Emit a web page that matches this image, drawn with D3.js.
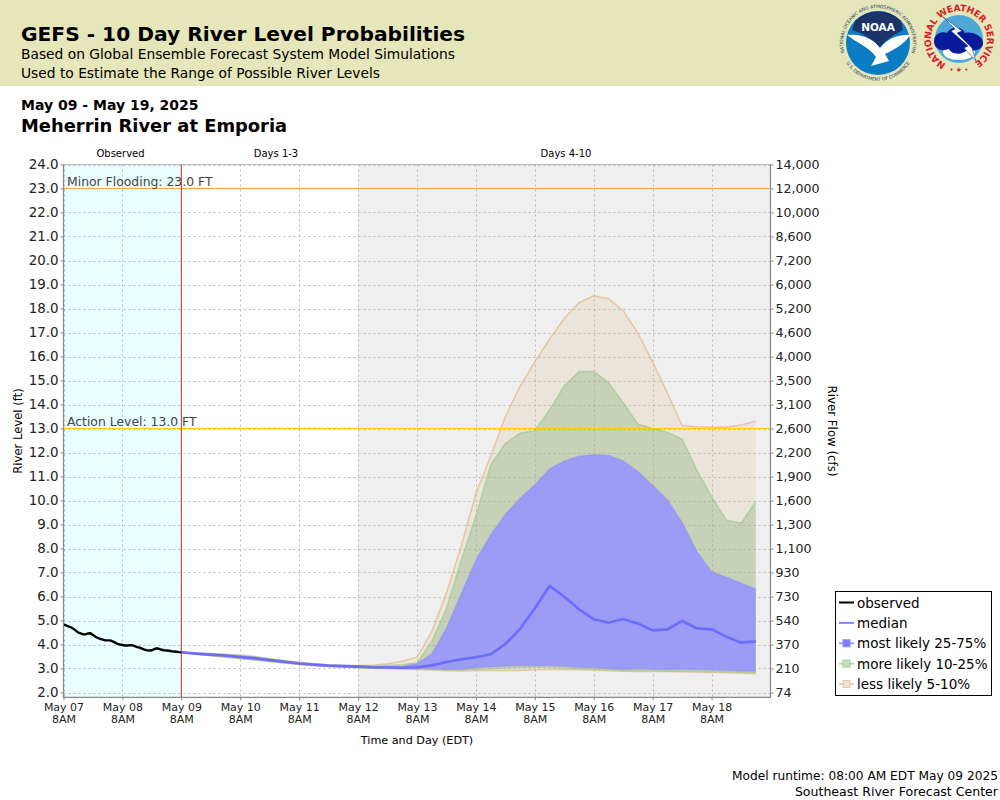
<!DOCTYPE html>
<html lang="en">
<head>
<meta charset="UTF-8">
<title>GEFS - 10 Day River Level Probabilities</title>
<script src="https://d3js.org/d3.v7.min.js"></script>
<style>
  html, body { margin: 0; padding: 0; background: #fff; }
  svg { display: block; font-family: "DejaVu Sans", sans-serif; }
  .domain { display: none; }
  .tick line { stroke: #888; }
  .tick text { fill: #222; }
</style>
</head>
<body>
<svg id="chart" width="1000" height="800"></svg>
<script>
// river level in ft, flow in cfs as printed next to each level
const levelTicks = [2,3,4,5,6,7,8,9,10,11,12,13,14,15,16,17,18,19,20,21,22,23,24]
const flowLabels = ["74","210","370","540","730","930","1,100","1,300","1,600","1,900","2,200","2,600","3,100","3,500","4,000","4,600","5,200","6,000","7,200","8,600","10,000","12,000","14,000"]
const dayTicks = ["2025-05-07","2025-05-08","2025-05-09","2025-05-10","2025-05-11","2025-05-12","2025-05-13","2025-05-14","2025-05-15","2025-05-16","2025-05-17","2025-05-18"]

// observed: hours after May 07 8AM
const obsHours = [0,1,2,3,4,5,6,7,8,9,10,11,12,13,14,15,16,17,18,19,20,21,22,23,24,25,26,27,28,29,30,31,32,33,34,35,36,37,38,39,40,41,42,43,44,45,46,47,48]
const obsLevels = [4.84,4.8,4.76,4.72,4.66,4.58,4.5,4.46,4.42,4.42,4.46,4.47,4.4,4.32,4.27,4.23,4.2,4.17,4.17,4.17,4.13,4.08,4.03,4.0,3.98,3.96,3.96,3.97,3.97,3.93,3.89,3.87,3.83,3.79,3.76,3.75,3.76,3.81,3.84,3.82,3.78,3.76,3.75,3.74,3.72,3.71,3.7,3.68,3.67]

// forecast: one value every 6 hours from May 09 8AM
const median = [3.68,3.62,3.58,3.54,3.48,3.43,3.35,3.28,3.21,3.16,3.12,3.1,3.08,3.05,3.04,3.03,3.05,3.13,3.27,3.38,3.47,3.59,4.02,4.65,5.51,6.44,5.99,5.47,5.05,4.91,5.06,4.88,4.59,4.63,4.98,4.67,4.63,4.33,4.08,4.13]
const p75 = [3.68,3.63,3.59,3.56,3.51,3.46,3.37,3.3,3.23,3.17,3.13,3.11,3.09,3.07,3.06,3.08,3.2,3.6,4.67,6.1,7.52,8.56,9.42,10.09,10.65,11.31,11.65,11.84,11.91,11.88,11.65,11.21,10.62,10.02,9.08,7.87,7.03,6.8,6.55,6.3]
const p25 = [3.68,3.61,3.56,3.51,3.45,3.38,3.32,3.25,3.19,3.14,3.1,3.08,3.05,3.03,3.02,3.01,3.0,3.0,2.97,2.97,3.04,3.07,3.1,3.12,3.12,3.12,3.1,3.05,3.04,3.0,2.97,3.0,2.97,2.97,2.97,2.97,2.95,2.93,2.9,2.89]
const p90 = [3.68,3.64,3.6,3.57,3.53,3.48,3.39,3.31,3.24,3.18,3.14,3.12,3.11,3.09,3.12,3.16,3.24,4.12,5.5,7.5,9.35,11.48,12.38,12.8,12.92,13.77,14.78,15.37,15.38,14.92,14.08,13.18,13.0,12.84,12.56,11.27,10.16,9.19,9.05,9.95]
const p10 = [3.68,3.6,3.54,3.48,3.42,3.36,3.3,3.24,3.18,3.13,3.09,3.07,3.04,3.02,3.01,3.0,2.98,2.97,2.94,2.94,2.97,3.0,3.02,3.04,3.05,3.05,3.03,3.0,2.98,2.95,2.92,2.92,2.92,2.9,2.9,2.9,2.88,2.86,2.84,2.82]
const p95 = [3.68,3.65,3.62,3.59,3.56,3.5,3.42,3.33,3.26,3.2,3.16,3.13,3.13,3.14,3.2,3.3,3.47,4.53,6.14,8.1,10.3,11.83,13.49,14.77,15.78,16.72,17.59,18.24,18.53,18.41,17.9,16.97,15.78,14.47,13.12,13.07,13.06,13.06,13.15,13.31]
const p05 = [3.68,3.6,3.53,3.47,3.41,3.35,3.29,3.23,3.17,3.12,3.08,3.06,3.03,3.01,3.0,2.98,2.96,2.94,2.91,2.9,2.92,2.93,2.92,2.92,2.95,2.96,2.96,2.95,2.93,2.91,2.89,2.88,2.87,2.87,2.86,2.84,2.83,2.82,2.8,2.79]

const legendLabels = ["observed","median","most likely 25-75%","more likely 10-25%","less likely 5-10%"]

const parseDay = d3.utcParse("%Y-%m-%d")
const hour = 3600000
const start = +parseDay(dayTicks[0]) + 8*hour
const dayTimes = dayTicks.map(d => +parseDay(d) + 8*hour)
const fcstStart = start + 48*hour
const graySince = start + 120*hour
const end = start + 288*hour

const svg = d3.select("#chart")

const x = d3.scaleUtc().domain([start, end]).range([63.5, 770.5])
const y = d3.scaleLinear().domain([1.8, 24]).range([697.3, 164.5])
const plotTop = y(24), plotBottom = y(1.8), plotLeft = x(start), plotRight = x(end)

// header
svg.append("rect").attr("width",1000).attr("height",86).attr("fill","#e5e6b9")
function txt(s, px, py, size, weight, anchor, fill) {
    return svg.append("text").attr("x",px).attr("y",py).attr("font-size",size)
        .attr("font-weight",weight || "normal").attr("text-anchor",anchor || "start")
        .attr("fill",fill || "#000").text(s)
}
txt("GEFS - 10 Day River Level Probabilities",21,41,20.2,"bold")
txt("Based on Global Ensemble Forecast System Model Simulations",21,59,13.8)
txt("Used to Estimate the Range of Possible River Levels",21,78,13.8)
txt("May 09 - May 19, 2025",21,110,14,"bold")
txt("Meherrin River at Emporia",21,132,17.9,"bold")

// logos
const noaa = svg.append("g").attr("transform","translate(878,43)")
noaa.append("circle").attr("r",32).attr("fill","#0a7cc4")
noaa.append("path").attr("d","M-23,-22 A32,32 0 0 1 23,-22 L25,-13 C16,-8 8,-4 2,4 C-6,-4 -16,-10 -26,-13Z").attr("fill","#1c3368")
noaa.append("path").attr("d","M-31,-8 C-14,-10 -3,-2 2,5 C8,-3 18,-9 32,-8 C26,2 15,7 7,11 L11,18 L-7,23 L-2,14 C-9,4 -21,0 -31,-8Z").attr("fill","#fff")
noaa.append("text").attr("y",-12).attr("text-anchor","middle").attr("font-size",10.5).attr("font-weight","bold").attr("fill","#fff").text("NOAA")
noaa.append("path").attr("id","noaaRing").attr("d","M-30,18 A35,35 0 1 1 30,18").attr("fill","none")
noaa.append("path").attr("id","noaaRingLow").attr("d","M-31,21 A37,37 0 0 0 31,21").attr("fill","none")
noaa.append("text").attr("font-size",4.5).attr("fill","#23305f").append("textPath").attr("href","#noaaRing").attr("startOffset","50%").attr("text-anchor","middle").text("NATIONAL OCEANIC AND ATMOSPHERIC ADMINISTRATION")
noaa.append("text").attr("font-size",4.5).attr("fill","#23305f").append("textPath").attr("href","#noaaRingLow").attr("startOffset","50%").attr("text-anchor","middle").text("U.S. DEPARTMENT OF COMMERCE")

const nws = svg.append("g").attr("transform","translate(959,39)")
nws.append("circle").attr("r",24).attr("fill","#4fa7d8")
nws.append("ellipse").attr("cy",13).attr("rx",16).attr("ry",8).attr("fill","#fff")
nws.append("path").attr("d","M-25,2 C-25,-6 -16,-8 -12,-6 C-8,-14 4,-12 6,-6 C14,-8 23,-3 24,3 C25,10 16,13 8,11 C2,17 -8,15 -10,10 C-18,13 -25,10 -25,2Z").attr("fill","#0a1a9c")
nws.append("path").attr("d","M-16,-22 L3,-8 L-2,-6 L13,9 L17,22 L5,9 L9,7 L-8,-8 L-4,-10Z").attr("fill","#fff").attr("stroke","#123a8c").attr("stroke-width",.6)
nws.append("path").attr("id","nwsRing").attr("d","M-13,25 A28,28 0 1 1 13,25").attr("fill","none")
nws.append("text").attr("font-size",9.2).attr("font-weight","bold").attr("fill","#d8202c").append("textPath").attr("href","#nwsRing").attr("startOffset","0").attr("textLength",146).text("NATIONAL WEATHER SERVICE")
nws.append("text").attr("y",33).attr("text-anchor","middle").attr("font-size",7).attr("fill","#d8202c").text("• ★ •")

// plot background
svg.append("rect").attr("x",plotLeft).attr("y",plotTop).attr("width",plotRight-plotLeft).attr("height",plotBottom-plotTop).attr("fill","#fff")
svg.append("rect").attr("x",plotLeft).attr("y",plotTop).attr("width",x(fcstStart)-plotLeft).attr("height",plotBottom-plotTop).attr("fill","#e9ffff")
svg.append("rect").attr("x",x(graySince)).attr("y",plotTop).attr("width",plotRight-x(graySince)).attr("height",plotBottom-plotTop).attr("fill","#efefef")

// grid
const grid = svg.append("g").attr("stroke","#bbb").attr("stroke-width",1).attr("stroke-dasharray","2,3")
grid.selectAll(".gy").data(levelTicks).enter().append("line")
    .attr("x1",plotLeft).attr("x2",plotRight).attr("y1",d=>Math.round(y(d))+.5).attr("y2",d=>Math.round(y(d))+.5)
grid.selectAll(".gx").data(dayTimes).enter().append("line")
    .attr("y1",plotTop).attr("y2",plotBottom).attr("x1",d=>Math.round(x(d))+.5).attr("x2",d=>Math.round(x(d))+.5)

// forecast bands
const fcstTime = i => fcstStart + i*6*hour
function band(hi, lo, fill, line) {
    const area = d3.area().x((d,i)=>x(fcstTime(i))).y0((d,i)=>y(lo[i])).y1(d=>y(d))
    const edge = d3.line().x((d,i)=>x(fcstTime(i))).y(d=>y(d))
    svg.append("path").attr("d",area(hi)).attr("fill",fill)
    svg.append("path").attr("d",edge(hi)).attr("fill","none").attr("stroke",line).attr("stroke-width",1.5)
    svg.append("path").attr("d",edge(lo)).attr("fill","none").attr("stroke",line).attr("stroke-width",1.5)
}
band(p95,p05,"rgba(222,184,135,.2)","rgba(222,184,135,.7)")
band(p90,p10,"rgba(130,175,120,.35)","rgba(150,200,130,.6)")
band(p75,p25,"rgba(150,148,255,.88)","rgba(135,135,250,.45)")

// thresholds
svg.append("line").attr("x1",plotLeft).attr("x2",plotRight).attr("y1",y(23)).attr("y2",y(23)).attr("stroke","#ffa640").attr("stroke-width",1)
svg.append("line").attr("x1",plotLeft).attr("x2",plotRight).attr("y1",y(13)).attr("y2",y(13)).attr("stroke","#ffd000").attr("stroke-width",1)
txt("Minor Flooding: 23.0 FT",67,186,12.4,"normal","start","#444")
txt("Action Level: 13.0 FT",67,426,12.4,"normal","start","#444")

// forecast start marker
svg.append("line").attr("x1",x(fcstStart)).attr("x2",x(fcstStart)).attr("y1",plotTop).attr("y2",plotBottom).attr("stroke","#d22").attr("stroke-width",1)

// series lines
svg.append("path").attr("fill","none").attr("stroke","#6c6cff").attr("stroke-width",2.6)
    .attr("d",d3.line().x((d,i)=>x(fcstTime(i))).y(d=>y(d))(median))
svg.append("path").attr("fill","none").attr("stroke","#000").attr("stroke-width",2.4)
    .attr("d",d3.line().x((d,i)=>x(start+obsHours[i]*hour)).y(d=>y(d))(obsLevels))

// frame and axes
svg.append("path").attr("fill","none").attr("stroke","#bbb").attr("d",`M${plotLeft},${plotTop}H${plotRight}`)
svg.append("path").attr("fill","none").attr("stroke","#888").attr("stroke-width",1.2).attr("d",`M${plotLeft},${plotTop}V${plotBottom}H${plotRight}V${plotTop}`)

const axisL = d3.axisLeft(y).tickValues(levelTicks).tickFormat(d3.format(".1f")).tickSize(3).tickPadding(2)
svg.append("g").attr("transform",`translate(${plotLeft},0)`).call(axisL).selectAll("text").attr("font-size",13.4).attr("font-family","DejaVu Sans")
const axisR = d3.axisRight(y).tickValues(levelTicks).tickFormat((d,i)=>flowLabels[i]).tickSize(3).tickPadding(2)
svg.append("g").attr("transform",`translate(${plotRight},0)`).call(axisR).selectAll("text").attr("font-size",12.6).attr("font-family","DejaVu Sans")

const fmt = d3.utcFormat("%b %d")
const axisB = d3.axisBottom(x).tickValues(dayTimes).tickFormat(d=>fmt(new Date(d))).tickSize(3).tickPadding(3)
const gB = svg.append("g").attr("transform",`translate(0,${plotBottom})`).call(axisB)
gB.selectAll("text").attr("font-size",11).attr("font-family","DejaVu Sans").attr("dy","0.71em")
gB.selectAll(".tick").append("text").attr("y",18).attr("dy","0.71em").attr("font-size",11).attr("font-family","DejaVu Sans").attr("fill","#222").text("8AM")

// section labels
txt("Observed",120.5,157,10,"normal","middle")
txt("Days 1-3",276,157,10,"normal","middle")
txt("Days 4-10",566,157,10,"normal","middle")

txt("Time and Day (EDT)",417,744,11.2,"normal","middle")
svg.append("text").attr("transform","translate(22,431) rotate(-90)").attr("text-anchor","middle").attr("font-size",11.6).text("River Level (ft)")
svg.append("text").attr("transform","translate(828,431) rotate(90)").attr("text-anchor","middle").attr("font-size",11.8).text("River Flow (cfs)")

// legend
svg.append("rect").attr("x",835.5).attr("y",591.5).attr("width",156).attr("height",104).attr("fill","#fff").attr("stroke","#000")
const legendStyles = [
  {line:"#000", w:2, box:null},
  {line:"#8484ff", w:2, box:null},
  {line:"#a0a0ff", w:2, box:"#7c7cff", edge:"#8c8cff"},
  {line:"#b6dba8", w:2, box:"#c4dfb6", edge:"#a6cf98"},
  {line:"#e8cfb4", w:2, box:"#eee2d2", edge:"#e0c8ac"}
]
const rowY = d3.scalePoint().domain(legendLabels).range([602.5,684]) 
const rows = svg.selectAll(".leg").data(legendLabels).enter().append("g").attr("transform",d=>`translate(0,${rowY(d)})`)
rows.append("line").attr("x1",839).attr("x2",854).attr("stroke",(d,i)=>legendStyles[i].line).attr("stroke-width",(d,i)=>legendStyles[i].w)
rows.filter((d,i)=>legendStyles[i].box).append("rect").attr("x",843).attr("y",-3.5).attr("width",7).attr("height",7)
    .attr("fill",d=>legendStyles[legendLabels.indexOf(d)].box).attr("stroke",d=>legendStyles[legendLabels.indexOf(d)].edge)
rows.append("text").attr("x",857).attr("y",5).attr("font-size",13.5).text(d=>d)

// footer
txt("Model runtime: 08:00 AM EDT May 09 2025",998,780,12.2,"normal","end")
txt("Southeast River Forecast Center",998,796,12.55,"normal","end")
</script>
</body>
</html>
